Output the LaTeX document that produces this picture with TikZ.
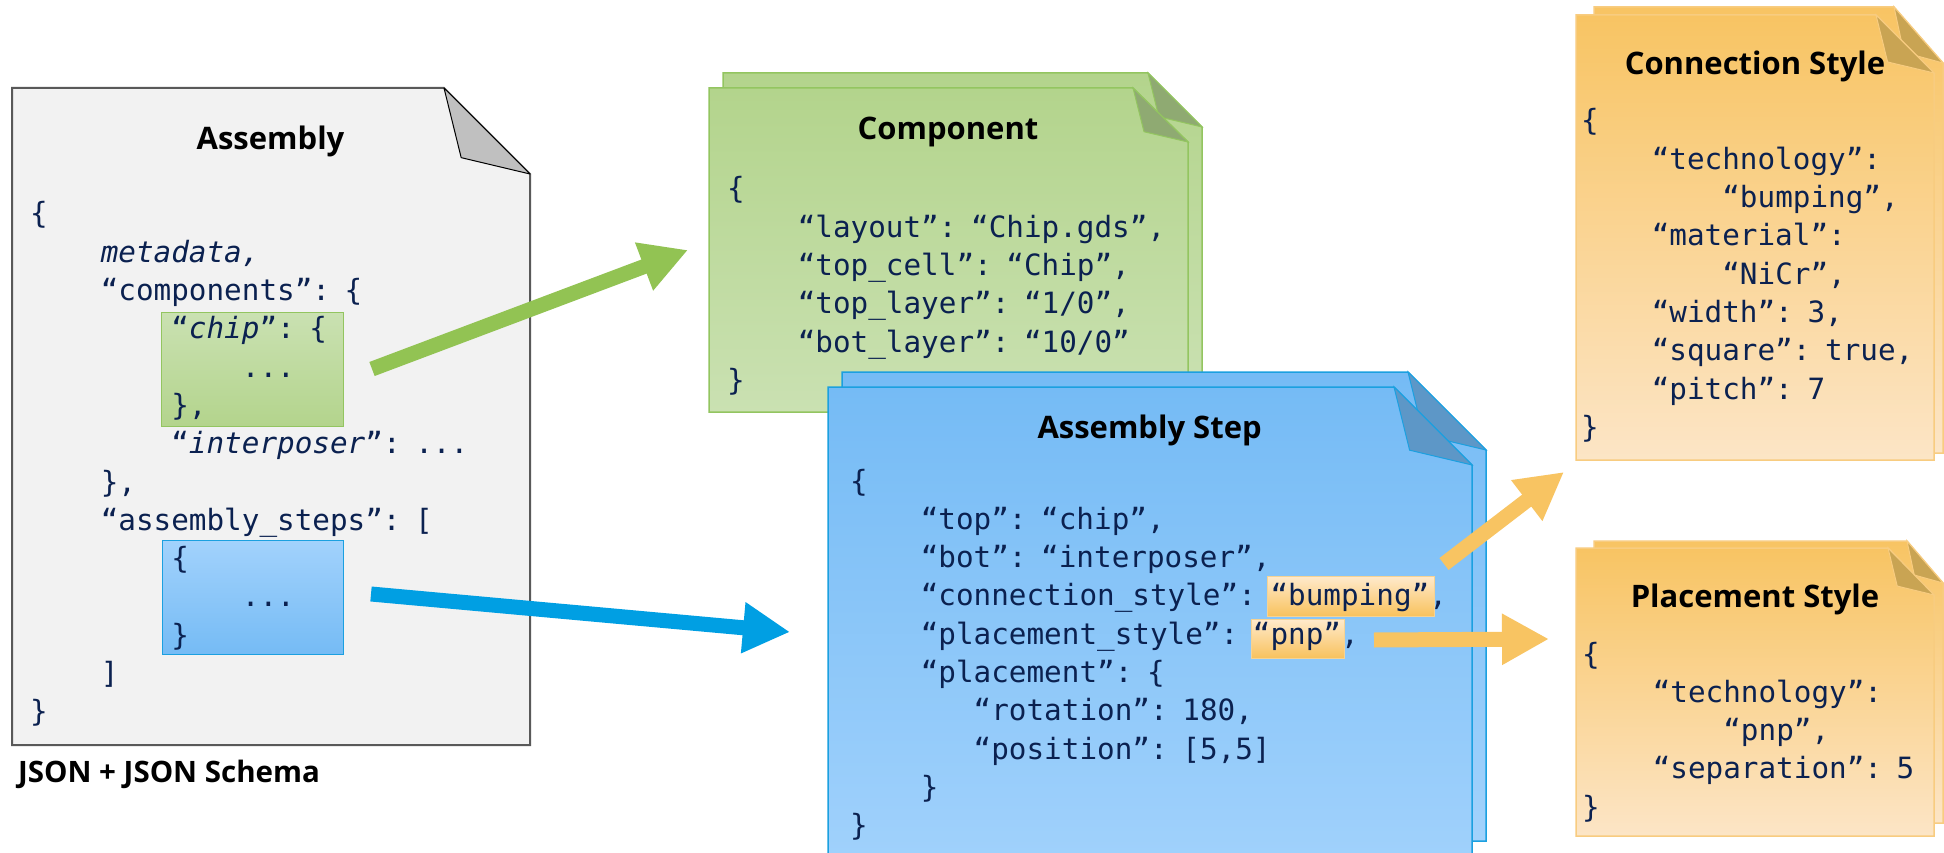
\documentclass[tikz,border=0pt]{standalone}
\usepackage{fontspec}
\usetikzlibrary{arrows.meta}
\newfontfamily\codefont{DejaVu Sans Mono}
\newfontfamily\titlefont{Open Sans}
\definecolor{codeblue}{HTML}{0B2150}
\definecolor{asmfill}{HTML}{F2F2F2}
\definecolor{asmline}{HTML}{595959}
\definecolor{asmflap}{HTML}{C0C0C0}
\definecolor{grtop}{HTML}{B3D48C}
\definecolor{grbot}{HTML}{CAE1B2}
\definecolor{grline}{HTML}{93C560}
\definecolor{grflap}{HTML}{8FAA72}
\definecolor{blutop}{HTML}{75BBF5}
\definecolor{blubot}{HTML}{A2D2FC}
\definecolor{bluline}{HTML}{1BA0E0}
\definecolor{bluflap}{HTML}{5D97C7}
\definecolor{ortop}{HTML}{F8C463}
\definecolor{orbot}{HTML}{FCE5C6}
\definecolor{orline}{HTML}{F8CC80}
\definecolor{orflap}{HTML}{C9A453}
\definecolor{arrgreen}{HTML}{92C353}
\definecolor{arrblue}{HTML}{009FE3}
\definecolor{arrorange}{HTML}{F8C462}
\definecolor{hltop}{HTML}{FFEACB}
\definecolor{hlbot}{HTML}{F8C15C}
\definecolor{hlline}{HTML}{F6D393}
\newcommand\tabi{\hphantom{0000}}
\newcommand\tabiii{\hphantom{000}}
% style, x1, y1, x2, y2, fold w, fold h
\newcommand\dogpage[7]{\path[#1] (#2,#3) -- ({#4-#6},#3) -- (#4,{#3+#7}) -- (#4,#5) -- (#2,#5) -- cycle;}
% style, x2, y1, fold w, fold h
\newcommand\dogflap[5]{\path[#1] ({#2-#4},#3) -- ({#2-0.8*#4},{#3+0.81*#5}) -- (#2,{#3+#5}) -- cycle;}
\begin{document}
\begin{tikzpicture}[x=1pt,y=-1pt,
  code/.style={font=\codefont\fontsize{29.3}{38.3}\selectfont, text=codeblue, align=left, text width=700pt, inner sep=0pt, anchor=base west},
  ttl/.style={font=\titlefont\bfseries\fontsize{31}{36}\selectfont, inner sep=0pt, anchor=base},
  fatarrow/.style={line width=15pt, -{Triangle[length=47pt,width=48pt]}},
  hl/.style={top color=hltop, bottom color=hlbot, draw=hlline, line width=1pt, inner sep=0pt, anchor=north west},
  grpage/.style={top color=grtop, bottom color=grbot, draw=grline, line width=1.5pt},
  blpage/.style={top color=blutop, bottom color=blubot, draw=bluline, line width=1.5pt},
  orpage/.style={top color=ortop, bottom color=orbot, draw=orline, line width=1.5pt},
]
\useasboundingbox (0,0) rectangle (1944,853);
\fill[white] (0,0) rectangle (1944,853);

% ---------- Assembly page ----------
\dogpage{fill=asmfill, draw=asmline, line width=2pt}{12}{88}{530}{745}{86}{86}
\dogflap{fill=asmflap, draw=black, line width=1pt, line join=round}{530}{88}{86}{86}
\node[top color=grbot, bottom color=grtop, draw=grline, line width=1pt, inner sep=0pt, anchor=north west, minimum width=182pt, minimum height=114pt] (chipbox) at (161,312) {};
\node[top color=blubot, bottom color=blutop, draw=bluline, line width=1pt, inner sep=0pt, anchor=north west, minimum width=181pt, minimum height=114pt] (stepbox) at (162,540) {};
\node[ttl] (asmtitle) at (270.5,150) {Assembly};
\node[code] (asmcode) at (30,224) {\{\\
\tabi\textit{metadata,}\\
\tabi“components”: \{\\
\tabi\tabi“\textit{chip}”: \{\\
\tabi\tabi\tabi...\\
\tabi\tabi\},\\
\tabi\tabi“\textit{interposer}”: ...\\
\tabi\},\\
\tabi“assembly\_steps”: [\\
\tabi\tabi\{\\
\tabi\tabi\tabi...\\
\tabi\tabi\}\\
\tabi]\\
\}};
\node[font=\titlefont\bfseries\fontsize{29.5}{34}\selectfont, inner sep=0pt, anchor=base] (caption) at (169,782) {JSON + JSON Schema};

% ---------- Component pages ----------
\dogpage{grpage}{723}{73}{1202}{397}{54}{54}
\dogflap{fill=grflap, draw=grline, line width=1pt}{1202}{73}{54}{54}
\dogpage{grpage}{709}{88}{1188}{412}{55}{54}
\dogflap{fill=grflap, draw=grline, line width=1pt}{1188}{88}{55}{54}
\node[ttl] (comptitle) at (948,140) {Component};
\node[code] (compcode) at (727,199) {\{\\
\tabi“layout”: “Chip.gds”,\\
\tabi“top\_cell”: “Chip”,\\
\tabi“top\_layer”: “1/0”,\\
\tabi“bot\_layer”: “10/0”\\
\}};

% ---------- Assembly Step pages ----------
\dogpage{blpage}{842}{372}{1486}{841}{78}{78}
\dogflap{fill=bluflap, draw=bluline, line width=1pt}{1486}{372}{78}{78}
\dogpage{blpage}{828}{387}{1472}{880}{78}{78}
\dogflap{fill=bluflap, draw=bluline, line width=1pt}{1472}{387}{78}{78}
\node[hl, minimum width=167pt, minimum height=40pt] (hlbump) at (1267,576) {};
\node[hl, minimum width=93pt, minimum height=39pt] (hlpnp) at (1251,619) {};
\node[ttl] (steptitle) at (1149.6,438) {Assembly Step};
\node[code] (stepcode) at (850,491) {\{\\
\tabi“top”: “chip”,\\
\tabi“bot”: “interposer”,\\
\tabi“connection\_style”: “bumping”,\\
\tabi“placement\_style”: “pnp”,\\
\tabi“placement”: \{\\
\tabi\tabiii“rotation”: 180,\\
\tabi\tabiii“position”: [5,5]\\
\tabi\}\\
\}};

% ---------- Connection Style pages ----------
\dogpage{orpage}{1594}{7}{1943}{453}{49}{56}
\dogflap{fill=orflap, draw=orline, line width=1pt}{1943}{7}{49}{56}
\dogpage{orpage}{1576}{15}{1934}{460}{58}{58}
\dogflap{fill=orflap, draw=orline, line width=1pt}{1934}{15}{58}{58}
\node[ttl] (contitle) at (1755,75) {Connection Style};
\node[code] (concode) at (1581,131) {\{\\
\tabi“technology”:\\
\tabi\tabi“bumping”,\\
\tabi“material”:\\
\tabi\tabi“NiCr”,\\
\tabi“width”: 3,\\
\tabi“square”: true,\\
\tabi“pitch”: 7\\
\}};

% ---------- Placement Style pages ----------
\dogpage{orpage}{1594}{541}{1943}{823}{36}{42}
\dogflap{fill=orflap, draw=orline, line width=1pt}{1943}{541}{36}{42}
\dogpage{orpage}{1576}{548}{1934}{836}{46}{47}
\dogflap{fill=orflap, draw=orline, line width=1pt}{1934}{548}{46}{47}
\node[ttl] (plctitle) at (1755,607) {Placement Style};
\node[code] (plccode) at (1582,664) {\{\\
\tabi“technology”:\\
\tabi\tabi“pnp”,\\
\tabi“separation”: 5\\
\}};

% ---------- Arrows ----------
\coordinate (gT) at (372,369);
\coordinate (gH) at (688,250);
\coordinate (bT) at (371,594);
\coordinate (bH) at (790,632);
\coordinate (o1T) at (1444,564);
\coordinate (o1H) at (1564,472);
\coordinate (o2T) at (1374,640);
\coordinate (o2H) at (1549,639);
\draw[fatarrow, arrgreen] (gT) -- (gH);
\draw[fatarrow, arrblue] (bT) -- (bH);
\draw[fatarrow, arrorange] (o1T) -- (o1H);
\draw[fatarrow, arrorange] (o2T) -- (o2H);
\end{tikzpicture}
\end{document}
